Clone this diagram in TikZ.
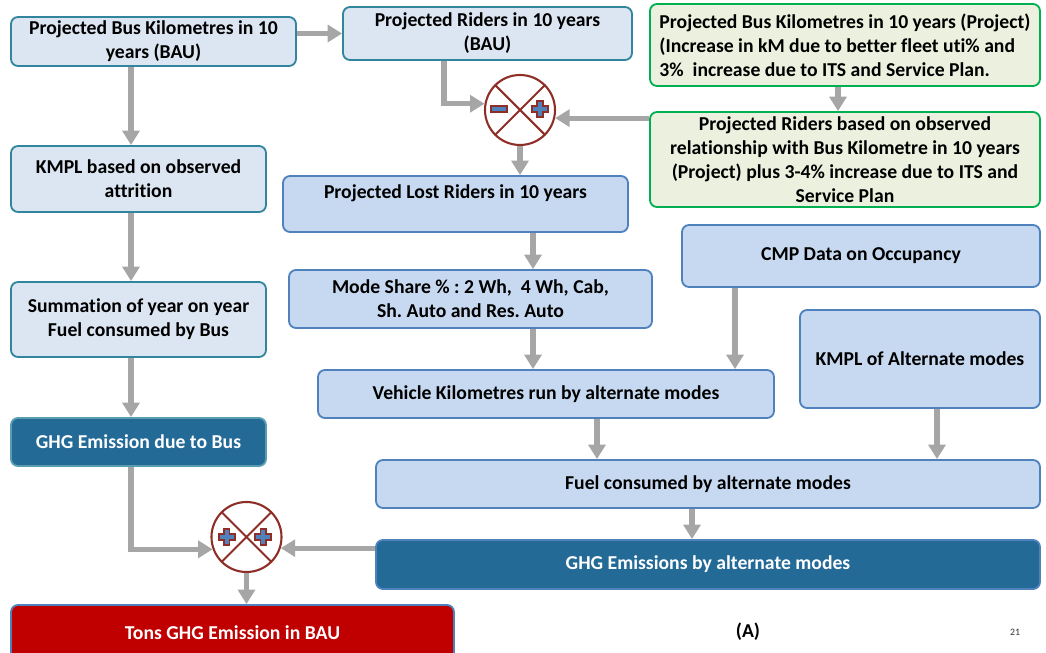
\documentclass[tikz,border=0pt]{standalone}
\usepackage{fontspec}
\setmainfont{Carlito}[Ligatures=NoCommon]
\usepackage{tikz}
\usetikzlibrary{arrows.meta, calc}
\frenchspacing
\definecolor{bauFill}   {HTML}{DCE6F2}
\definecolor{bauLine}   {HTML}{31859C}
\definecolor{altFill}   {HTML}{C6D9F1}
\definecolor{altLine}   {HTML}{4F81BD}
\definecolor{prjFill}   {HTML}{EBF1DE}
\definecolor{prjLine}   {HTML}{00B050}
\definecolor{ghgDark}   {HTML}{236A96}
\definecolor{tonsRed}   {HTML}{C00000}
\definecolor{opRed}     {HTML}{8E2F27}
\definecolor{opBlue}    {HTML}{4F81BD}
\definecolor{flowGray}  {HTML}{A6A6A6}
\tikzset{
  box/.style    = {rectangle, rounded corners=5pt, line width=1.3pt,
                   align=center, inner sep=0pt,
                   font=\fontsize{14}{17}\selectfont\bfseries},
  baubox/.style = {box, draw=bauLine, fill=bauFill},
  altbox/.style = {box, draw=altLine, fill=altFill},
  prjbox/.style = {box, draw=prjLine, fill=prjFill},
  ghgbus/.style = {box, draw=bauLine!80, fill=ghgDark, text=white},
  ghgalt/.style = {box, draw=altLine, fill=ghgDark, text=white},
  tonsbox/.style= {box, draw=altLine, fill=tonsRed, text=white},
  oper/.style   = {circle, draw=opRed, line width=1.5pt, fill=white,
                   minimum size=1.75cm, inner sep=0pt},
  flow/.style   = {-{Triangle[length=0.36cm, width=0.42cm]},
                   line width=3.6pt, draw=flowGray},
  plussign/.pic = {
    \filldraw[draw=opRed, fill=opBlue, line width=1.3pt]
      (-0.07,0.2) -- (0.07,0.2) -- (0.07,0.07) -- (0.2,0.07)
      -- (0.2,-0.07) -- (0.07,-0.07) -- (0.07,-0.2) -- (-0.07,-0.2)
      -- (-0.07,-0.07) -- (-0.2,-0.07) -- (-0.2,0.07) -- (-0.07,0.07)
      -- cycle;
  },
  minussign/.pic = {
    \filldraw[draw=opRed, fill=opBlue, line width=1.3pt]
      (-0.2,-0.07) rectangle (0.2,0.07);
  },
}

\begin{document}
\begin{tikzpicture}
  \useasboundingbox (0,0) rectangle (26.15,16.3);

  % left column (BAU)
  \node[baubox, minimum width=7.125cm, minimum height=1.225cm] (busBAU)
    at (3.8375,15.2625) {Projected Bus Kilometres in 10\\years (BAU)};
  \node[baubox, minimum width=7.225cm, minimum height=1.325cm] (ridBAU)
    at (12.1875,15.4625) {Projected Riders in 10 years\\(BAU)};
  \node[baubox, minimum width=6.375cm, minimum height=1.65cm] (kmpl)
    at (3.4625,11.825) {KMPL based on observed\\attrition};
  \node[baubox, minimum width=6.375cm, minimum height=1.875cm] (sumFuel)
    at (3.4625,8.3125) {Summation of year on year\\Fuel consumed by Bus};
  \node[ghgbus, minimum width=6.375cm, minimum height=1.2cm] (ghgBus)
    at (3.4625,5.25) {GHG Emission due to Bus};
  \node[tonsbox, minimum width=11.075cm, minimum height=1.375cm] (tons)
    at (5.8125,0.4875) {Tons GHG Emission in BAU};

  % project side
  \node[prjbox, align=left, minimum width=9.75cm, minimum height=2.05cm] (busProj)
    at (21.125,15.175) {Projected Bus Kilometres in 10 years (Project)\\
      (Increase in kM due to better fleet uti\% and\\
      3\%~ increase due to ITS and Service Plan.};
  \node[prjbox, minimum width=9.75cm, minimum height=2.375cm] (ridProj)
    at (21.125,12.3125) {Projected Riders based on observed\\
      relationship with Bus Kilometre in 10 years\\
      (Project) plus 3-4\% increase due to ITS and\\Service Plan};

  % alternate modes
  \node[altbox, minimum width=8.625cm, minimum height=1.4cm] (lost)
    at (11.3875,11.2) {Projected Lost Riders in 10 years\\\mbox{}};
  \node[altbox, minimum width=9.075cm, minimum height=1.45cm] (modeShare)
    at (11.7625,8.825) {Mode Share \% : 2 Wh,~ 4 Wh, Cab,\\Sh. Auto and Res. Auto};
  \node[altbox, minimum width=8.95cm, minimum height=1.55cm] (cmp)
    at (21.525,9.9) {CMP Data on Occupancy};
  \node[altbox, minimum width=6cm, minimum height=2.45cm] (kmplAlt)
    at (23.0,7.325) {KMPL of Alternate modes};
  \node[altbox, minimum width=11.4cm, minimum height=1.2cm] (vkm)
    at (13.65,6.45) {Vehicle Kilometres run by alternate modes};
  \node[altbox, minimum width=16.6cm, minimum height=1.2cm] (fuelAlt)
    at (17.7,4.2) {Fuel consumed by alternate modes};
  \node[ghgalt, minimum width=16.6cm, minimum height=1.225cm] (ghgAlt)
    at (17.7,2.1875) {GHG Emissions by alternate modes};

  % operators
  \node[oper] (diffOp) at (13.0,13.55) {};
  \draw[opRed, line width=1.5pt] (diffOp.45) -- (diffOp.225)
    (diffOp.135) -- (diffOp.315);
  \pic at ($(diffOp)+(-0.525,0.025)$) {minussign};
  \pic at ($(diffOp)+(0.5,0.025)$) {plussign};

  \node[oper] (sumOp) at (6.1625,2.875) {};
  \draw[opRed, line width=1.5pt] (sumOp.45) -- (sumOp.225)
    (sumOp.135) -- (sumOp.315);
  \pic at ($(sumOp)+(-0.495,0.0)$) {plussign};
  \pic at ($(sumOp)+(0.42,0.0)$) {plussign};

  \node[font=\fontsize{14}{17}\selectfont\bfseries] (tag) at (18.7,0.5) {(A)};
  \node[font=\fontsize{7}{8}\selectfont, text=black!80] (pageNo) at (25.375,0.5) {21};

  % column helpers
  \coordinate (colA) at (3.275,0);
  \coordinate (colB) at (11.1,0);
  \coordinate (colC) at (13.325,0);
  \coordinate (colD) at (18.375,0);
  \coordinate (colE) at (14.925,0);
  \coordinate (colF) at (23.425,0);
  \coordinate (colG) at (17.3,0);
  \coordinate (colH) at (20.95,0);

  % connectors
  \draw[flow] (busBAU.east |- ridBAU) -- (ridBAU.west |- ridBAU);
  \draw[flow] (colA |- busBAU.south) -- (colA |- kmpl.north);
  \draw[flow] (colA |- kmpl.south) -- (colA |- sumFuel.north);
  \draw[flow] (colA |- sumFuel.south) -- (colA |- ghgBus.north);
  \draw[flow] (colB |- ridBAU.south) |- (diffOp.170);
  \draw[flow] (colH |- busProj.south) -- (colH |- ridProj.north);
  \draw[flow] (ridProj.west |- diffOp.-13) -- (diffOp.-13);
  \draw[flow] (diffOp.south) -- (diffOp.south |- lost.north);
  \draw[flow] (colC |- lost.south) -- (colC |- modeShare.north);
  \draw[flow] (colC |- modeShare.south) -- (colC |- vkm.north);
  \draw[flow] (colD |- cmp.south) -- (colD |- vkm.north);
  \draw[flow] (colE |- vkm.south) -- (colE |- fuelAlt.north);
  \draw[flow] (colF |- kmplAlt.south) -- (colF |- fuelAlt.north);
  \draw[flow] (colG |- fuelAlt.south) -- (colG |- ghgAlt.north);
  \draw[flow] (colA |- ghgBus.south) |- (sumOp.200);
  \draw[flow] (ghgAlt.west |- sumOp.-18) -- (sumOp.-18);
  \draw[flow] (sumOp.south) -- (sumOp.south |- tons.north);
\end{tikzpicture}
\end{document}
